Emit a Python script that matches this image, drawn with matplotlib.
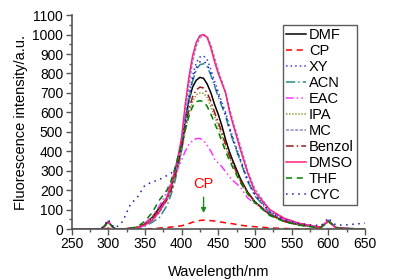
import numpy as np
from matplotlib import pyplot as plt

plt.rcParams['font.family'] = ['Liberation Sans', 'DejaVu Sans']
plt.rcParams['font.size'] = 10

wl = [250, 290, 295, 300, 305, 310, 320, 330, 340, 350, 360, 370, 380, 385, 390, 395,
      400, 405, 410, 415, 420, 425, 430, 435, 440, 445, 450, 455, 460, 465, 470,
      480, 490, 500, 520, 540, 560, 580, 590, 595, 600, 605, 610, 620, 650]

# intensities (a.u.), one list per solvent
dmf = [0, 0, 15, 38, 15, 0, 0, 3, 8, 25, 60, 110, 160, 200, 270, 350,
       440, 560, 660, 730, 765, 780, 775, 745, 700, 640, 590, 530, 460, 400, 350,
       260, 190, 140, 75, 40, 22, 12, 10, 25, 42, 25, 8, 3, 0]
cp = [0, 0, 0, 5, 0, 0, 0, 0, 0, 0, 2, 5, 8, 10, 12, 14,
      17, 22, 28, 35, 40, 44, 46, 45, 43, 41, 38, 35, 32, 30, 27,
      20, 15, 12, 6, 3, 1, 0, 0, 0, 0, 0, 0, 0, 0]
xy = [0, 0, 15, 40, 15, 0, 0, 3, 8, 22, 50, 95, 150, 200, 260, 330,
      420, 560, 690, 790, 855, 885, 890, 870, 820, 760, 705, 650, 600, 530, 470,
      360, 255, 180, 90, 48, 25, 12, 10, 28, 45, 28, 10, 4, 0]
acn = [0, 0, 15, 38, 15, 0, 0, 2, 5, 15, 35, 60, 120, 170, 230, 310,
       400, 530, 660, 760, 820, 845, 850, 835, 790, 735, 680, 630, 580, 515, 455,
       350, 245, 170, 85, 45, 25, 12, 10, 25, 43, 25, 8, 3, 0]
eac = [0, 0, 12, 35, 12, 0, 0, 3, 10, 30, 65, 120, 190, 230, 270, 310,
       355, 400, 435, 455, 465, 466, 455, 430, 400, 360, 340, 320, 295, 270, 250,
       216, 160, 130, 85, 48, 28, 12, 8, 22, 38, 22, 6, 2, 0]
ipa = [0, 0, 15, 38, 15, 0, 0, 3, 10, 25, 55, 100, 150, 190, 250, 320,
       400, 500, 590, 655, 690, 700, 698, 675, 630, 580, 530, 475, 420, 370, 325,
       245, 185, 138, 72, 38, 20, 10, 8, 24, 40, 24, 7, 2, 0]
mc = [0, 0, 15, 38, 15, 0, 0, 3, 8, 20, 45, 85, 150, 200, 265, 340,
      430, 590, 740, 860, 940, 985, 995, 990, 945, 880, 815, 760, 705, 625, 555,
      430, 300, 205, 100, 55, 30, 15, 10, 26, 44, 26, 8, 3, 0]
benzol = [0, 0, 15, 40, 15, 0, 0, 4, 10, 25, 55, 100, 150, 190, 255, 330,
          415, 520, 615, 680, 715, 730, 725, 700, 655, 600, 550, 495, 435, 380, 335,
          250, 190, 140, 75, 40, 22, 12, 10, 25, 42, 25, 8, 3, 0]
dmso = [0, 0, 15, 38, 15, 0, 0, 3, 8, 20, 45, 90, 165, 220, 290, 370,
        470, 640, 780, 890, 960, 995, 1000, 985, 930, 860, 800, 750, 700, 610, 540,
        410, 290, 190, 100, 55, 30, 15, 10, 25, 42, 25, 8, 3, 0]
thf = [0, 0, 15, 38, 15, 0, 0, 4, 12, 40, 85, 150, 200, 240, 300, 370,
       430, 510, 580, 630, 655, 660, 655, 630, 590, 545, 500, 450, 400, 355, 315,
       240, 180, 135, 70, 38, 20, 10, 8, 24, 40, 24, 7, 2, 0]
cyc = [0, 0, 20, 50, 20, 5, 40, 125, 165, 225, 242, 255, 275, 285, 300, 340,
       410, 540, 670, 770, 830, 860, 865, 845, 800, 740, 690, 640, 590, 520, 460,
       355, 250, 175, 88, 48, 28, 20, 18, 35, 58, 35, 22, 20, 30]

labels = ['DMF', 'CP', 'XY', 'ACN', 'EAC', 'IPA', 'MC', 'Benzol', 'DMSO', 'THF', 'CYC']
series = [dmf, cp, xy, acn, eac, ipa, mc, benzol, dmso, thf, cyc]
colors = ['black', '#ff0000', '#3a3aff', '#2a8a8a', '#ff33ff', '#9c9c40',
          '#8c8cc8', '#9a1a1a', '#ff2080', '#008000', '#1a1ab0']
styles = ['-', (0, (4, 3)), (0, (1, 2)), (0, (6, 2, 1, 2)), (0, (5, 2, 1, 2, 1, 2)),
          (0, (1, 1)), (0, (2, 1)), (0, (5, 2, 1, 2)), '-', (0, (4, 3)), (0, (1, 3))]

fig = plt.figure(figsize=(4.07, 2.8), dpi=100)
ax = fig.add_axes([0.1757, 0.182, 0.7211, 0.764])

for y, lab, c, ls in zip(series, labels, colors, styles):
    ax.plot(wl, y, color=c, ls=ls, lw=1.1, label=lab)

ax.text(430, 230, 'CP', color='red', ha='center', va='center', fontsize=10.5)
ax.annotate('', xy=(430, 68), xytext=(430, 178),
            arrowprops=dict(arrowstyle='-|>', color='#1a8a1a', lw=1, mutation_scale=7))

ax.set_xlim(250, 650)
ax.set_ylim(0, 1100)
ax.set_xticks(np.arange(250, 651, 50))
ax.set_xticks(np.arange(250, 651, 25), minor=True)
ax.set_yticks(np.arange(0, 1101, 100))
ax.set_yticks(np.arange(0, 1101, 50), minor=True)
ax.tick_params(which='major', direction='out', length=4, width=1, color='#555555',
               pad=2, labelsize=10)
ax.tick_params(which='minor', direction='out', length=2, width=1, color='#555555')
for s in ['top', 'right']:
    ax.spines[s].set_visible(False)
for s in ['left', 'bottom']:
    ax.spines[s].set_color('#555555')
    ax.spines[s].set_linewidth(1.2)

ax.set_xlabel('Wavelength/nm', fontsize=10.5, labelpad=10)
ax.set_ylabel('Fluorescence intensity/a.u.', fontsize=10.5, labelpad=3)

leg = ax.legend(loc='upper left', bbox_to_anchor=(0.72, 0.955), frameon=True,
                fancybox=False, handlelength=1.4, handletextpad=0.2, fontsize=10.5,
                labelspacing=0.14, borderpad=0.2, borderaxespad=0)
leg.get_frame().set_edgecolor('#333333')
leg.get_frame().set_linewidth(1.0)

fig.savefig('out.png', dpi=100)
